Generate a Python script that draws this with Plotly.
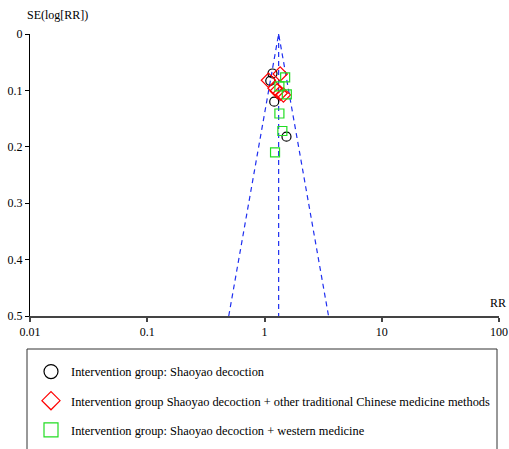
import numpy as np
import plotly.graph_objects as go

# ---- data ----
pooled_rr = 1.32
se_max = 0.5

circle_rr = [1.17, 1.12, 1.21, 1.54]
circle_se = [0.070, 0.083, 0.120, 0.182]

diamond_rr = [1.36, 1.08, 1.23, 1.28, 1.36, 1.45]
diamond_se = [0.071, 0.082, 0.096, 0.101, 0.105, 0.108]

square_rr = [1.50, 1.34, 1.55, 1.34, 1.42, 1.23]
square_se = [0.077, 0.093, 0.107, 0.141, 0.172, 0.210]

x_tickvals = [0.01, 0.1, 1, 10, 100]
x_ticktext = ["0.01", "0.1", "1", "10", "100"]
y_tickvals = [0, 0.1, 0.2, 0.3, 0.4, 0.5]
y_ticktext = ["0", "0.1", "0.2", "0.3", "0.4", "0.5"]

names = [
    "Intervention group: Shaoyao decoction",
    "Intervention group Shaoyao decoction + other traditional Chinese medicine methods",
    "Intervention group: Shaoyao decoction + western medicine",
]

FONT = "Liberation Serif, Times New Roman, serif"
BLUE = "#1f2ff0"
GREEN = "#22dd22"

W, H = 509, 449
L, R, T, B = 30, 10, 34, 133
PW, PH = W - L - R, H - T - B


def px(xf):
    return (xf - L) / PW


def py(yf):
    return (H - B - yf) / PH


fig = go.Figure()

# funnel lines
lo = float(np.exp(np.log(pooled_rr) - 1.96 * se_max))
hi = float(np.exp(np.log(pooled_rr) + 1.96 * se_max))
fig.add_trace(go.Scatter(x=[lo, pooled_rr, hi], y=[se_max, 0, se_max], mode="lines",
                         line=dict(color=BLUE, width=1.2, dash="5px,4px"),
                         showlegend=False, hoverinfo="skip"))
fig.add_trace(go.Scatter(x=[pooled_rr, pooled_rr], y=[0, se_max], mode="lines",
                         line=dict(color=BLUE, width=1.2, dash="5px,4px"),
                         showlegend=False, hoverinfo="skip"))

# data points
fig.add_trace(go.Scatter(x=circle_rr, y=circle_se, mode="markers", showlegend=False,
                         marker=dict(symbol="circle-open", size=9, color="black",
                                     line=dict(width=1.2, color="black"))))
fig.add_trace(go.Scatter(x=diamond_rr, y=diamond_se, mode="markers", showlegend=False,
                         marker=dict(symbol="diamond-open", size=11, color="red",
                                     line=dict(width=1.2, color="red"))))
fig.add_trace(go.Scatter(x=square_rr, y=square_se, mode="markers", showlegend=False,
                         marker=dict(symbol="square-open", size=9, color=GREEN,
                                     line=dict(width=1.2, color=GREEN))))

# legend entries
for i, (nm, sym, col) in enumerate(zip(names,
                                       ["circle-open", "diamond-open", "square-open"],
                                       ["black", "red", GREEN])):
    fig.add_trace(go.Scatter(x=[None], y=[None], mode="markers", name=nm,
                             legendgroup=f"g{i}",
                             marker=dict(symbol=sym, size=14, color=col,
                                         line=dict(width=1.2, color=col))))

fig.update_layout(
    template="none",
    width=W, height=H,
    margin=dict(l=L, r=R, t=T, b=B, autoexpand=False),
    paper_bgcolor="white", plot_bgcolor="white",
    font=dict(family=FONT, size=12, color="black"),
    showlegend=True,
    legend=dict(x=31 / W, y=1 - 357 / H, xref="container", yref="container",
                xanchor="left", yanchor="top",
                font=dict(family=FONT, size=12.4, color="black"),
                bgcolor="rgba(0,0,0,0)", borderwidth=0, tracegroupgap=10),
    xaxis=dict(type="log", range=[-2, 2], tickvals=x_tickvals, ticktext=x_ticktext,
               showgrid=False, zeroline=False, showline=True, linecolor="#444",
               linewidth=1.5, ticks="outside", ticklen=4, tickcolor="#444", tickwidth=1.5,
               tickfont=dict(family=FONT, size=12, color="black")),
    yaxis=dict(range=[0.5, 0], tickvals=y_tickvals, ticktext=y_ticktext,
               showgrid=False, zeroline=False, showline=True, linecolor="black",
               linewidth=1, ticks="outside", ticklen=4, tickcolor="black",
               tickfont=dict(family=FONT, size=12, color="black")),
    xaxis2=dict(type="log", overlaying="x", matches="x", anchor="y", side="bottom",
                tickvals=x_tickvals, showticklabels=False, showgrid=False, showline=False,
                zeroline=False, ticks="inside", ticklen=4, tickcolor="#444", tickwidth=1.5),
    yaxis2=dict(overlaying="y", matches="y", anchor="x", side="left",
                tickvals=y_tickvals, showticklabels=False, showgrid=False, showline=False,
                zeroline=False, ticks="inside", ticklen=4, tickcolor="black"),
    shapes=[dict(type="rect", xref="paper", yref="paper", x0=px(27), x1=px(497),
                 y0=py(349), y1=py(480), line=dict(color="#333", width=1))],
    annotations=[
        dict(text="SE(log[RR])", xref="paper", yref="paper", x=px(25), y=py(15),
             xanchor="left", yanchor="middle", showarrow=False,
             font=dict(family=FONT, size=12, color="black")),
        dict(text="RR", xref="paper", yref="paper", x=px(508), y=py(303),
             xanchor="right", yanchor="middle", showarrow=False,
             font=dict(family=FONT, size=12, color="black")),
    ],
)

fig.write_html(
    "out.html",
    config={"displayModeBar": False},
    post_script="document.body.style.margin='0';document.body.style.overflow='hidden';",
)
